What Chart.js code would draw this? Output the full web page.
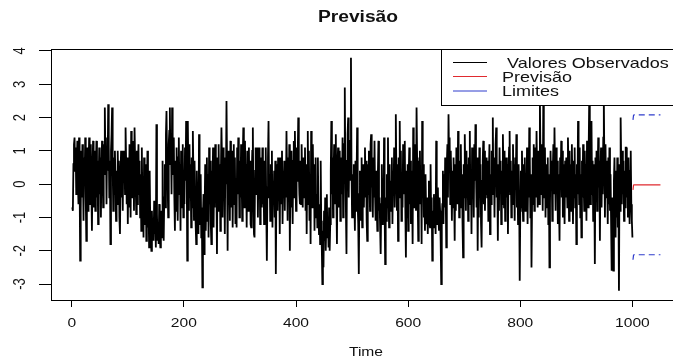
<!DOCTYPE html>
<html>
<head>
<meta charset="utf-8">
<script src="https://cdn.jsdelivr.net/npm/chart.js@4.4.1/dist/chart.umd.min.js"></script>
<style>
  html, body { margin: 0; padding: 0; background: #fff; }
  #wrap { width: 673px; height: 358px; overflow: hidden; position: relative; }
  canvas { display: block; }
</style>
</head>
<body>
<div id="wrap"><canvas id="myChart" width="700" height="358"></canvas></div>
<script>
/* values, t = 1..1000 */
const observed = [
  -0.7, -0.8, 0.6, 1.2, 1.4, 0.4, 1.1, -0.3, 0.7, 1.3, 0.1, -0.6, 1.4, 0.3, -2.3, -0.8, 1.0, -0.4, 1.2, 0.3,
  -1.1, 0.8, 0.1, 1.4, -0.4, -1.7, -0.3, 1.1, -0.8, 0.4, 1.4, 0.7, -0.6, 1.2, -0.1, -1.4, 0.3, 1.3, -0.7, 0.6,
  1.0, -0.8, 0.3, 1.3, -0.4, 0.7, -1.2, 0.1, 1.1, -0.3, 0.8, -1.0, 0.4, 1.3, 0.6, -0.7, 1.2, 0.3, 2.3, 0.8,
  1.4, -0.6, 1.1, 0.4, 2.4, 1.2, -0.4, 0.7, -1.8, 1.0, 1.5, 2.3, 0.6, -0.8, 0.8, -0.3, 1.0, 0.1, -1.1, 0.4,
  -0.6, 1.0, -0.1, 0.7, -1.0, -1.5, 0.3, 1.0, -0.4, 0.6, -0.8, 1.0, 0.1, 1.0, -0.3, 1.7, 0.7, -0.6, 0.8, -1.2,
  0.4, -0.7, 1.2, 0.3, -1.0, 1.6, 0.6, -0.4, 1.3, 0.8, -0.8, 1.7, 0.7, 0.1, -0.9, 1.0, -0.6, 0.4, 1.2, -0.3,
  0.7, -1.0, 0.3, -1.4, 1.1, -0.6, 0.1, -1.6, 0.8, -0.3, -1.2, 0.6, -1.7, -0.4, 1.0, -1.3, -0.7, -1.9, 0.4, -1.1,
  -1.5, -2.0, -0.8, -1.6, -1.2, -1.7, -0.5, -1.5, -1.0, -1.9, 1.8, -0.9, -1.7, -1.3, -1.8, -0.6, -1.5, -1.9, -0.8, -1.4,
  -1.6, 0.7, -1.2, -1.7, -0.4, 0.6, -0.7, 1.5, 2.2, 0.8, 0.1, -1.0, 1.2, 1.6, 2.3, 0.6, 1.3, -0.3, 2.3, 1.1,
  0.3, 1.4, -0.4, -1.4, 0.7, -0.8, 1.1, 0.1, -1.1, 0.8, 1.4, -0.3, 0.6, -1.4, 1.0, 0.4, -0.7, 1.2, -1.0, 0.3,
  -0.6, 1.1, 0.1, 1.9, 0.7, -2.3, 1.9, 0.4, -0.8, 1.2, -0.4, 0.6, -1.3, 0.8, -0.7, 1.6, 0.3, -1.1, 0.7, -0.3,
  -1.2, -1.8, 0.4, -0.8, -0.1, -1.5, 1.5, -0.6, -1.2, 0.3, -1.6, -0.7, -3.1, -1.0, -0.3, -2.1, -0.8, 0.6, -1.4, -0.4,
  0.8, -1.1, 0.3, -1.6, 1.1, -0.6, 0.7, -1.2, -1.8, 0.4, -0.3, 1.1, -1.3, 0.6, -0.7, 1.2, -0.4, 0.1, -2.1, 0.8,
  -0.8, 1.2, -0.3, 0.6, -1.4, 0.3, 1.7, 0.7, -1.0, 1.1, -0.4, 0.4, -1.5, 0.8, 0.0, 2.5, 0.6, -2.0, 1.0, -0.6,
  0.7, -1.1, 1.3, 0.3, -0.7, 1.0, -1.3, 0.4, 1.2, -0.6, 0.8, -1.2, 0.1, -1.3, 1.1, -0.3, 1.4, 0.6, -1.0, 0.7,
  -0.4, 1.2, 0.3, -1.1, 0.8, 1.7, 0.4, -0.7, 1.3, -0.3, 0.6, -1.3, 1.0, 0.1, -0.8, 1.1, -0.4, 0.7, -1.2, -1.3,
  0.3, 1.0, 1.7, -0.6, -1.5, -1.6, 0.4, 1.1, -0.3, 0.7, 1.1, -1.0, 0.6, -0.4, 1.1, -1.2, 0.3, 0.8, -0.7, 1.1,
  -0.6, 0.4, -1.2, 0.7, -0.3, 1.1, -0.8, -2.3, -0.1, 0.8, 1.9, -0.4, 0.3, -1.1, 0.6, -0.7, 1.0, -1.3, 0.1, -0.6,
  0.4, -1.0, 0.7, -2.7, -0.3, 0.6, -0.8, 0.8, -0.4, 0.3, -1.5, 0.8, -0.6, 0.1, 1.0, -1.2, 0.4, -0.1, 0.7, -0.8,
  0.6, -0.4, 1.6, 0.3, -1.1, 0.8, -0.3, 1.2, -2.0, 0.4, -0.7, 1.0, 0.0, -1.2, 0.7, 1.3, -0.4, 1.6, 0.3, -0.8,
  1.1, 0.1, 0.8, 2.0, 0.4, -0.3, -0.6, 0.7, -0.6, 1.2, 0.1, -0.7, 0.8, 0.3, -0.4, 1.1, -0.8, 0.6, -1.5, 0.4,
  1.6, -0.6, 1.0, -1.1, 0.3, -1.8, 1.6, 0.4, -0.7, 1.2, -0.3, 0.6, -1.4, 0.1, 0.8, -1.0, -0.3, -1.3, 0.8, -0.8,
  -1.5, -0.6, -1.8, 0.7, -1.1, -1.9, -3.0, -1.4, -2.5, -0.8, -1.7, -0.4, -2.0, -1.2, -0.3, -1.6, -1.0, -1.9, -0.7, -2.0,
  -1.2, 0.4, 1.9, -0.3, 0.8, -1.0, 0.3, 1.2, -0.6, 0.7, 1.5, -0.4, -1.8, 0.6, 1.1, -0.7, 0.1, 1.0, -1.1, 0.4,
  0.8, -0.3, 1.4, -1.0, 0.6, 1.2, 2.9, 0.3, -0.8, -2.1, 0.7, 1.5, 2.0, -0.4, 1.0, 0.1, 1.3, 3.8, 0.4, -1.0,
  0.3, -1.0, 0.6, -0.4, -1.4, 0.7, -0.8, 0.1, 1.7, -0.6, -1.2, -2.7, -0.3, 0.4, -1.1, -0.1, 0.8, -1.3, -0.4, 0.6,
  -0.7, 0.3, 1.1, -0.4, 0.7, -1.1, -1.7, 0.6, -0.3, 1.0, 0.0, -0.8, 1.2, 1.5, -0.1, 0.4, -1.0, 0.8, -0.4, 1.3,
  -0.3, -1.1, 0.4, -0.7, -1.4, 0.3, 1.3, -0.8, -0.4, -1.3, -2.1, -0.6, 0.6, -1.2, -0.3, -1.0, 1.4, -0.7, -2.4, -0.4,
  -1.1, 0.3, -0.7, 1.4, -0.4, -1.3, 0.6, -0.8, 0.1, -0.6, 0.8, -1.2, 0.4, -0.3, 1.1, -0.7, 0.7, 2.1, 0.3, -0.8,
  0.6, -1.7, 0.8, 0.1, 1.9, -0.4, 1.0, -1.1, 0.3, -0.7, 1.2, -0.3, 0.7, 1.3, -0.8, -2.2, 0.4, -1.0, 0.6, -1.4,
  0.3, 1.1, -0.6, 0.7, -1.2, 0.4, -0.3, -1.8, 1.7, 0.6, -0.7, 1.2, 0.1, -0.8, 2.3, 0.8, -0.4, -1.7, 0.7, 0.0,
  1.0, -0.6, 0.4, -1.8, 1.9, -0.3, 0.6, -1.0, -0.4, -1.4, 0.3, -0.8, -1.2, -0.4, -1.5, -0.7, 0.1, -1.1, -1.3, 0.6,
  -1.0, -0.4, -2.3, -0.8, -1.3, -0.3, -1.1, -0.6, -1.5, 1.3, -0.7, -1.2, -0.1, -1.0, -1.4, -0.4, -0.8, -1.7, -3.0, -1.1,
  -0.6, 0.4, -1.2, 0.3, -0.7, 0.8, -0.3, -1.9, 0.6, 1.2, -0.4, 2.1, 0.7, 1.4, -0.6, 1.0, 0.1, -1.1, 0.4, -0.7,
  0.8, -0.3, -1.7, 0.6, -0.8, 1.1, 0.1, -0.6, 1.6, 0.4, -1.0, 0.7, -0.3, 1.2, -0.7, 0.3, -1.2, -2.2, 0.6, -0.4,
  1.5, 0.3, -0.8, 1.0, -0.4, 0.6, -1.1, 0.8, 0.0, 1.6, -0.6, 0.4, -1.5, 1.1, -0.3, 0.7, -1.0, 1.2, 0.1, 1.8,
  0.4, -0.7, 0.8, -2.0, 0.3, -1.0, 1.1, -0.4, 0.6, -1.2, -1.9, 0.1, 0.7, 1.3, -0.6, 1.0, -0.8, 0.3, -0.3, 0.8,
  -0.4, 0.7, -1.1, 0.4, 1.2, -1.5, 0.3, -0.6, 1.0, 0.1, 2.0, -0.3, 0.8, -1.0, 0.6, 1.2, 1.7, -0.4, 0.3, -1.7,
  0.6, -0.8, 1.1, -0.1, 0.7, -1.2, 0.4, -0.6, 1.5, 0.3, -0.7, 1.0, -1.1, 0.1, 0.8, -0.4, 0.6, -1.5, 0.3, 1.1,
  1.6, -0.3, 0.7, -1.0, 0.4, -0.6, 1.2, -0.1, 0.6, -1.1, 0.8, 0.0, 1.5, -0.7, 0.3, -1.2, 0.6, -0.4, -2.9, -0.8,
  0.4, -0.7, 1.0, -0.3, -1.1, 0.6, -0.1, 0.8, -0.8, 0.3, -0.6, 1.1, -1.2, 0.1, -0.4, 1.7, 0.7, -1.0, 0.3, -2.5,
  -0.6, 0.8, -0.3, 1.2, -0.8, 0.4, 1.1, -0.4, 1.6, 0.3, -0.7, 1.0, 0.1, -0.6, 2.5, 0.8, -0.3, 1.2, 0.4, -0.8,
  2.4, 0.7, -0.4, 1.1, -1.0, 0.6, 0.1, -0.7, 0.8, -1.2, 0.3, -2.5, -0.6, 1.0, -0.1, 0.7, -1.1, 0.4, 1.2, -0.3,
  1.7, 0.4, -0.8, 1.1, -0.3, 0.7, -1.2, 0.3, -0.6, -1.7, 0.8, 0.1, 1.3, -0.4, 1.0, -1.0, 0.6, 0.0, -1.2, 0.7,
  -0.4, 0.8, 0.1, -0.7, 1.4, 0.4, -1.1, 1.0, -0.3, 0.6, -0.8, 1.2, 0.0, -1.2, 0.7, -0.4, 1.1, -0.7, 0.3, -1.8,
  0.6, -0.3, 1.9, 0.8, -0.6, 1.1, -1.0, 0.3, -1.6, 0.7, -0.4, 1.2, 0.1, -0.8, 1.0, -0.1, 0.6, -1.1, 1.3, 0.3,
  -0.7, 1.1, 2.6, 0.4, -0.6, 1.2, 1.9, -0.3, 0.7, -1.1, 0.6, 0.0, -2.4, 0.8, -0.4, 1.0, -0.8, 0.3, 1.4, -0.1,
  0.7, -1.7, 0.4, 1.1, -0.7, 0.8, -0.3, 1.4, 2.6, 0.6, -1.0, 1.2, -0.4, 0.7, 0.1, -1.2, 0.8, -0.6, 1.1, -0.8,
  0.3, -1.2, -2.6, -0.4, -1.4, -2.6, 0.1, 0.8, -0.7, -1.6, 0.4, -1.0, 0.8, -1.3, -0.3, -3.2, 0.6, -0.8, 2.0, 0.7,
  -0.6, 1.0, -0.3, 0.7, -1.1, 0.4, -0.7, 1.1, 1.1, -0.4, 0.6, -1.0, 0.8, -0.1, -1.2, 0.4, 1.0, -0.6, -1.1, -1.6
];

/* forecast, t = 1001..1050 */
const forecast = [
  -0.17, -0.03, -0.02, -0.02, -0.02, -0.02, -0.02, -0.02, -0.02, -0.02,
  -0.02, -0.02, -0.02, -0.02, -0.02, -0.02, -0.02, -0.02, -0.02, -0.02,
  -0.02, -0.02, -0.02, -0.02, -0.02, -0.02, -0.02, -0.02, -0.02, -0.02,
  -0.02, -0.02, -0.02, -0.02, -0.02, -0.02, -0.02, -0.02, -0.02, -0.02,
  -0.02, -0.02, -0.02, -0.02, -0.02, -0.02, -0.02, -0.02, -0.02, -0.02
];
const upper = [
  1.93, 2.07, 2.08, 2.08, 2.08, 2.08, 2.08, 2.08, 2.08, 2.08,
  2.08, 2.08, 2.08, 2.08, 2.08, 2.08, 2.08, 2.08, 2.08, 2.08,
  2.08, 2.08, 2.08, 2.08, 2.08, 2.08, 2.08, 2.08, 2.08, 2.08,
  2.08, 2.08, 2.08, 2.08, 2.08, 2.08, 2.08, 2.08, 2.08, 2.08,
  2.08, 2.08, 2.08, 2.08, 2.08, 2.08, 2.08, 2.08, 2.08, 2.08
];
const lower = [
  -2.27, -2.13, -2.12, -2.12, -2.12, -2.12, -2.12, -2.12, -2.12, -2.12,
  -2.12, -2.12, -2.12, -2.12, -2.12, -2.12, -2.12, -2.12, -2.12, -2.12,
  -2.12, -2.12, -2.12, -2.12, -2.12, -2.12, -2.12, -2.12, -2.12, -2.12,
  -2.12, -2.12, -2.12, -2.12, -2.12, -2.12, -2.12, -2.12, -2.12, -2.12,
  -2.12, -2.12, -2.12, -2.12, -2.12, -2.12, -2.12, -2.12, -2.12, -2.12
];

const xTicks = [0, 200, 400, 600, 800, 1000];
const yTicks = [-3, -2, -1, 0, 1, 2, 3, 4];
const legendLabels = [" Valores Observados", "Previsão", "Limites"];

const obsPoints = observed.map((v, i) => ({ x: i + 1, y: v }));
const fcPoints = forecast.map((v, i) => ({ x: 1001 + i, y: v }));
const upPoints = upper.map((v, i) => ({ x: 1001 + i, y: v }));
const loPoints = lower.map((v, i) => ({ x: 1001 + i, y: v }));

const FONT = "Liberation Sans, Arial, Helvetica, sans-serif";
const SX = 1.2; // the picture is stretched sideways

function drawText(ctx, text, x, y, font, align, rotate) {
    ctx.save();
    ctx.translate(x, y);
    if (rotate) {
        ctx.rotate(-Math.PI / 2);
        ctx.scale(1, SX);
    } else {
        ctx.scale(SX, 1);
    }
    ctx.font = font;
    ctx.fillStyle = "#111";
    ctx.textAlign = align;
    ctx.textBaseline = "middle";
    ctx.fillText(text, 0, 0);
    ctx.restore();
}

const rPlot = {
    id: "rPlot",
    afterDatasetsDraw(chart) {
        const ctx = chart.ctx;
        const a = chart.chartArea;
        const xs = chart.scales.x;
        const ys = chart.scales.y;

        // box round the plot
        ctx.save();
        ctx.strokeStyle = "#000";
        ctx.lineWidth = 1;
        ctx.strokeRect(a.left + 0.5, a.top + 0.5, a.right - a.left, a.bottom - a.top);
        ctx.restore();

        // legend (top right, R style)
        const lx = 441, ly = a.top, lh = 56;
        ctx.save();
        ctx.fillStyle = "#fff";
        ctx.fillRect(lx, ly, 700 - lx, lh);
        ctx.strokeStyle = "#000";
        ctx.lineWidth = 1;
        ctx.strokeRect(lx + 0.5, ly + 0.5, 700, lh);
        const rows = [62.5, 76.5, 91];
        chart.data.datasets.forEach((ds, i) => {
            if (i > 2) return;
            ctx.strokeStyle = ds.borderColor;
            ctx.lineWidth = 1;
            ctx.beginPath();
            ctx.moveTo(453, rows[i]);
            ctx.lineTo(487, rows[i]);
            ctx.stroke();
            drawText(ctx, legendLabels[i], 502, rows[i] + 1, "15px " + FONT, "left", false);
        });
        ctx.restore();

        // title and axis texts
        drawText(ctx, "Previsão", 358, 18, "bold 16px " + FONT, "center", false);
        drawText(ctx, "Time", 366, 352, "13px " + FONT, "center", false);
        xTicks.forEach(v => {
            drawText(ctx, String(v), xs.getPixelForValue(v), 323, "13px " + FONT, "center", false);
        });
        yTicks.forEach(v => {
            drawText(ctx, String(v), 21, ys.getPixelForValue(v), "13px " + FONT, "center", true);
        });
    }
};

const config = {
    type: "line",
    data: {
        datasets: [
            {
                label: legendLabels[0],
                data: obsPoints,
                borderColor: "#000",
                borderWidth: 1.8,
                pointRadius: 0,
                tension: 0,
            },
            {
                label: legendLabels[1],
                data: fcPoints,
                borderColor: "#e02a2f",
                borderWidth: 1.2,
                pointRadius: 0,
                tension: 0,
            },
            {
                label: legendLabels[2],
                data: upPoints,
                borderColor: "#2f3ccc",
                borderWidth: 1.2,
                borderDash: [6, 4],
                pointRadius: 0,
                tension: 0,
            },
            {
                label: "lower",
                data: loPoints,
                borderColor: "#2f3ccc",
                borderWidth: 1.2,
                borderDash: [6, 4],
                pointRadius: 0,
                tension: 0,
            },
        ],
    },
    options: {
        responsive: false,
        animation: false,
        events: [],
        layout: { padding: { top: 49, right: 16, left: 0, bottom: 0 } },
        plugins: {
            legend: { display: false },
            title: { display: false },
            tooltip: { enabled: false },
        },
        scales: {
            x: {
                type: "linear",
                min: -37,
                max: 1092,
                afterBuildTicks: s => { s.ticks = xTicks.map(v => ({ value: v })); },
                afterFit: s => { s.height = 58; },
                ticks: { display: false },
                grid: { drawOnChartArea: false, drawTicks: true, tickLength: 7, color: "#000" },
                border: { display: false },
            },
            y: {
                type: "linear",
                min: -3.48,
                max: 4.06,
                afterBuildTicks: s => { s.ticks = yTicks.map(v => ({ value: v })); },
                afterFit: s => { s.width = 51; },
                ticks: { display: false },
                grid: { drawOnChartArea: false, drawTicks: true, tickLength: 12, color: "#000" },
                border: { display: false },
            },
        },
    },
    plugins: [rPlot],
};

const myChart = new Chart(document.getElementById("myChart"), config);
</script>
</body>
</html>
